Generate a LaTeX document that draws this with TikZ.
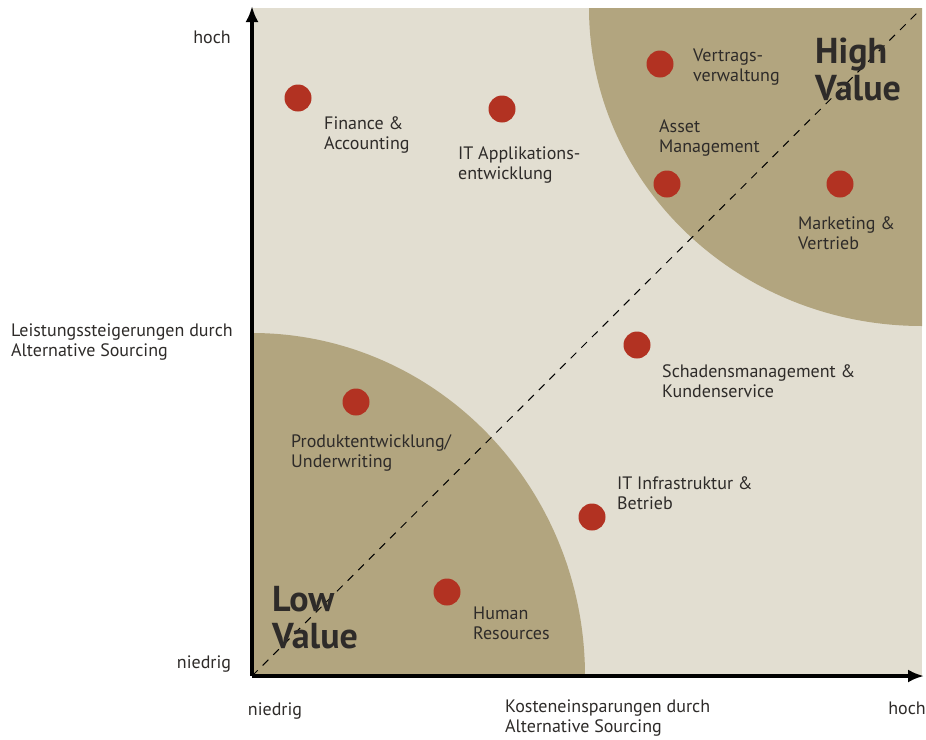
\documentclass[tikz,border=0pt]{standalone}
\usepackage{fontspec}
\setmainfont{PT Sans}
\usetikzlibrary{arrows.meta}
\definecolor{bgbeige}{HTML}{E2DED1}
\definecolor{valuebrown}{HTML}{B2A57F}
\definecolor{dotred}{HTML}{B23222}
\definecolor{txtgray}{HTML}{2E2B29}

\begin{document}
\begin{tikzpicture}[x=1pt,y=-1pt,
    dot/.style={circle,fill=dotred,minimum size=27pt,inner sep=0pt},
    lbl/.style={anchor=west,align=left,inner sep=0pt,text=txtgray,font=\fontsize{18}{20}\selectfont},
    big/.style={anchor=west,align=left,inner sep=0pt,text=txtgray,font=\fontsize{36}{37}\selectfont\bfseries},
    axis/.style={line width=3.5pt,-{Latex[length=16pt,width=13pt]}}]
    \useasboundingbox (0,0) rectangle (926,739);
    % field and the two value areas
    \fill[bgbeige] (252,8) rectangle (922,676);
    \begin{scope}
      \clip (252,8) rectangle (922,676);
      \fill[valuebrown] (922,8) ellipse [x radius=333, y radius=318];
      \fill[valuebrown] (252,676) ellipse [x radius=333, y radius=343];
    \end{scope}
    \coordinate (o) at (252,676);
    \coordinate (ytop) at (252,6);
    \coordinate (xend) at (924,676);
    \coordinate (dend) at (918,12);
    \draw[line width=1pt,dash pattern=on 8pt off 7pt] (o) -- (dend);
    \draw[axis] (o) -- (ytop);
    \draw[axis] (o) -- (xend);
    % fields of activity
    \foreach \n/\px/\py/\lx/\ly/\t in {fin/298/98/324/135/{Finance \&\\Accounting},
        itapp/502/109/458/165/{IT Applikations-\\entwicklung},
        vertrag/660/64/693/67/{Vertrags-\\verwaltung},
        asset/667/184/659/138/{Asset\\Management},
        mkt/840/184/798/233/{Marketing \&\\Vertrieb},
        schaden/637/345/662/381/{Schadensmanagement \&\\Kundenservice},
        prod/356/402/291/453/{Produktentwicklung/\\Underwriting},
        itinf/592/517/617/493/{IT Infrastruktur \&\\Betrieb},
        hr/447/592/473/623/{Human\\Resources}}{
      \node[dot] (\n) at (\px,\py) {};
      \node[lbl] (\n-l) at (\lx,\ly) {\t};
    }
    \node[big] (high) at (815,69) {High\\Value};
    \node[big] (low) at (272,618) {Low\\Value};
    % axis labels
    \node[lbl,anchor=center] (yhoch) at (212,37) {hoch};
    \node[lbl,anchor=center] (yniedrig) at (204,664) {niedrig};
    \node[lbl,anchor=center] (xniedrig) at (275,711) {niedrig};
    \node[lbl,anchor=center] (xhoch) at (907,708) {hoch};
    \node[lbl] (xtitle) at (505,718) {Kosteneinsparungen durch\\Alternative Sourcing};
    \node[lbl] (ytitle) at (11,342) {Leistungssteigerungen durch\\Alternative Sourcing};
\end{tikzpicture}
\end{document}
